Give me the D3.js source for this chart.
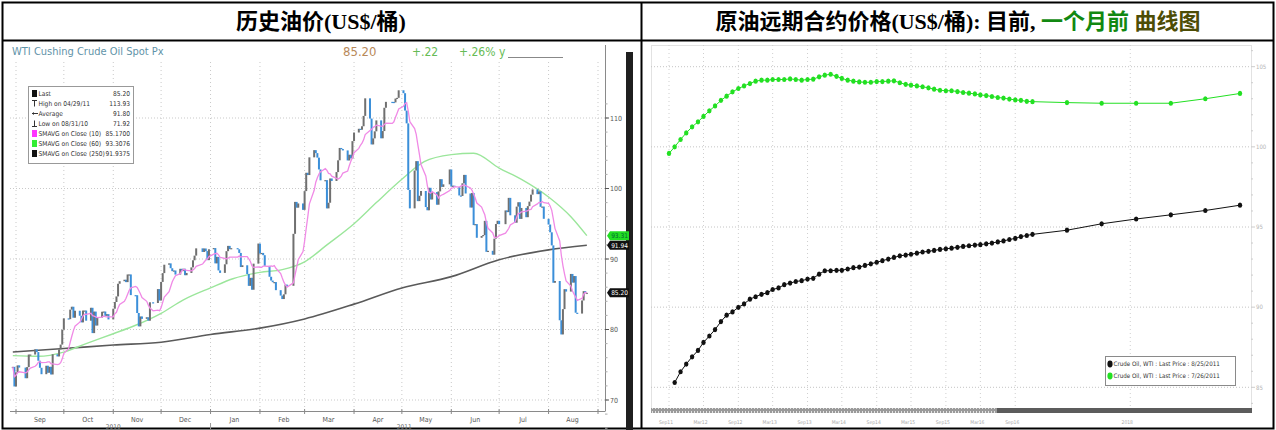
<!DOCTYPE html>
<html><head><meta charset="utf-8">
<script src="https://cdn.jsdelivr.net/npm/d3@7"></script>
<style>
body{margin:0;background:#fff;}
svg{display:block;}
.cond{font-family:'DejaVu Sans Condensed','DejaVu Sans',sans-serif;font-stretch:condensed;}
</style></head><body>
<svg id="c" width="1276" height="430"></svg>
<script>
// ---------------- DATA (left: WTI Cushing spot, daily closes) ----------------
const closesAug2010 = [74.70, 71.92];
const closesSep2010 = [73.91,74.91,74.60,73.09,74.67,76.45,76.45,77.19,76.80,75.57,74.57,73.66,74.86,73.86,74.71,73.62,76.49,76.18,77.18,77.86,79.97];
const closesOct2010 = [81.58,81.47,82.82,83.23,81.67,82.66,81.95,81.01,82.69,82.69,81.25,83.08,79.49,82.54,80.56,81.69,82.52,82.55,81.94,82.18,81.43];
const closesNov2010 = [82.95,83.90,84.69,86.49,86.85,87.06,86.72,87.81,87.81,84.88,84.86,82.34,80.44,81.85,81.51,81.74,81.25,83.86,83.76,85.73,84.11];
const closesDec2010 = [86.75,88.00,89.19,89.38,88.69,88.28,88.37,87.79,88.61,88.28,88.62,87.70,88.02,88.81,89.82,90.48,91.51,91.00,91.49,91.12,89.84,91.38];
const closesJan2011 = [91.55,89.38,90.30,88.38,88.03,89.25,91.11,91.86,91.40,91.54,91.38,90.86,88.86,89.11,87.87,86.19,87.33,85.64,89.34,92.19];
const closesFeb2011 = [90.77,90.86,90.54,89.03,87.48,86.94,86.71,86.73,85.58,84.81,84.32,84.99,86.36,86.20,93.57,98.10,97.28,97.88,96.97];
const closesMar2011 = [99.63,102.23,101.91,104.42,105.44,105.02,104.38,102.70,101.16,101.19,97.18,97.98,101.42,101.07,102.33,104.00,105.75,105.60,105.40,103.98,104.79,104.27,106.72];
const closesApr2011 = [107.94,108.47,108.34,108.83,110.30,112.79,109.92,106.25,107.11,108.11,109.66,107.12,108.15,111.45,112.29,112.28,112.21,112.76,112.86,113.93];
const closesMay2011 = [113.52,111.05,109.24,99.80,97.18,102.55,103.88,98.21,98.97,99.65,97.37,96.91,100.10,98.44,99.49,97.70,99.59,101.32,100.23,100.59,102.70];
const closesJun2011 = [100.29,100.40,100.22,99.01,98.94,100.74,101.93,99.29,97.30,99.37,94.81,94.95,93.01,93.26,93.40,95.41,91.02,91.16,90.61,92.89,94.96,95.42];
const closesJul2011 = [94.94,96.89,96.65,98.67,96.20,95.15,97.43,98.05,95.69,97.24,95.93,97.50,98.14,99.13,99.87,99.20,99.59,97.40,97.44,95.70];
const closesAug2011 = [94.89,93.79,91.93,86.63,86.88,81.31,79.30,82.89,85.72,85.38,87.88,86.65,87.58,82.38,82.26,84.12,85.44,85.16,85.20];
const marketHolidays = ["2010-09-06","2010-11-25","2010-12-24","2011-01-17","2011-02-21","2011-04-22","2011-05-30","2011-07-04"];
const firstTradingDay = "2010-08-30", lastTradingDay = "2011-08-25";

// 60-day and 250-day simple moving averages
const sma60Dates  = ["2010-08-30","2010-09-15","2010-10-01","2010-10-15","2010-11-01","2010-11-15","2010-12-01","2010-12-15","2011-01-01","2011-01-15","2011-02-01","2011-02-15","2011-03-01","2011-03-15","2011-04-01","2011-04-15","2011-05-01","2011-05-15","2011-06-01","2011-06-15","2011-07-01","2011-07-15","2011-08-01","2011-08-15","2011-08-25"];
const sma60Values = [76.3,76.2,76.8,78.0,79.4,80.6,82.3,84.2,85.9,87.2,88.1,88.5,89.6,92.0,95.0,98.0,101.3,103.8,104.8,105.0,102.9,101.3,98.8,96.0,93.31];
const sma250Dates  = ["2010-08-30","2010-10-01","2010-11-01","2010-12-01","2011-01-01","2011-02-01","2011-03-01","2011-04-01","2011-05-01","2011-06-01","2011-07-01","2011-08-01","2011-08-25"];
const sma250Values = [76.8,77.3,77.8,78.2,79.3,80.2,81.5,83.6,85.9,87.5,89.9,91.3,91.94];

const leftYTicks = [70,80,90,100,110];
const monthLabels = ["Sep","Oct","Nov","Dec","Jan","Feb","Mar","Apr","May","Jun","Jul","Aug"];
const yearLabels = ["2010","2011"];
const legendLabels = ["Last","High on 04/29/11","Average","Low on 08/31/10","SMAVG on Close (10)","SMAVG on Close (60)","SMAVG on Close (250)"];
const legendValues = ["85.20","113.93","91.80","71.92","85.1700","93.3076","91.9375"];
const tagValues = [93.31, 91.94, 85.20];
const tagLabels = ["93.31","91.94","85.20"];

// ---------------- DATA (right: WTI futures curves) ----------------
const curveNowFirst = "2011-10-01";   // 8/25/2011 curve, monthly contracts Oct11..Dec16
const curveNowMonthly = [85.30,85.97,86.45,86.90,87.30,87.80,88.20,88.60,89.10,89.50,
  89.70,89.99,90.20,90.50,90.65,90.80,90.90,91.10,91.20,91.40,
  91.50,91.60,91.65,91.75,91.80,92.06,92.27,92.27,92.30,92.30,
  92.38,92.46,92.50,92.60,92.70,92.80,92.90,93.00,93.10,93.20,
  93.25,93.30,93.37,93.44,93.48,93.54,93.60,93.64,93.68,93.73,
  93.79,93.83,93.87,93.90,93.95,94.00,94.07,94.13,94.22,94.29,
  94.40,94.47,94.54];
const curveMonthAgoFirst = "2011-09-01"; // 7/26/2011 curve, monthly contracts Sep11..Dec16
const curveMonthAgoMonthly = [99.59,100.00,100.46,100.87,101.25,101.56,101.90,102.25,102.55,102.90,
  103.16,103.43,103.64,103.80,103.95,104.10,104.16,104.16,104.20,104.20,
  104.20,104.24,104.20,104.16,104.20,104.22,104.37,104.47,104.53,104.40,
  104.27,104.16,104.10,104.05,104.03,104.03,104.07,104.07,104.10,104.12,
  104.00,103.90,103.85,103.80,103.75,103.68,103.60,103.53,103.50,103.50,
  103.45,103.39,103.35,103.30,103.24,103.20,103.14,103.08,103.04,102.98,
  102.93,102.90,102.84,102.82];
const backContracts = ["2017-06-01","2017-12-01","2018-06-01","2018-12-01","2019-06-01","2019-12-01"];
const curveNowBack = [94.80,95.20,95.50,95.76,96.03,96.36];
const curveMonthAgoBack = [102.76,102.72,102.72,102.72,103.00,103.33];
const rightYTicks = [85,90,95,100,105];
const rightXTickDates = ["2011-09-01","2012-03-01","2012-09-01","2013-03-01","2013-09-01","2014-03-01","2014-09-01","2015-03-01","2015-09-01","2016-03-01","2016-09-01","2018-05-01"];
const rightXTickLabels = ["Sep11","Mar12","Sep12","Mar13","Sep13","Mar14","Sep14","Mar15","Sep15","Mar16","Sep16","2018"];
const rightLegend = ["Crude Oil, WTI : Last Price : 8/25/2011","Crude Oil, WTI : Last Price : 7/26/2011"];

// ---------------- BUILD ----------------
const P = d3.timeParse("%Y-%m-%d");
const svg = d3.select("#c");
const COND = "'DejaVu Sans Condensed','DejaVu Sans',sans-serif";

const hol = new Set(marketHolidays);
const fmt = d3.timeFormat("%Y-%m-%d");
const days = d3.timeDay.range(P(firstTradingDay), d3.timeDay.offset(P(lastTradingDay),1))
  .filter(d => d.getDay()!==0 && d.getDay()!==6 && !hol.has(fmt(d)));
const closes = [].concat(closesAug2010,closesSep2010,closesOct2010,closesNov2010,closesDec2010,closesJan2011,closesFeb2011,closesMar2011,closesApr2011,closesMay2011,closesJun2011,closesJul2011,closesAug2011);
const n = Math.min(days.length, closes.length);
const bars = d3.range(n).map(i => ({d: days[i], c: closes[i], o: i>0 ? closes[i-1] : closes[i]}));
const sma10 = bars.map((b,i) => ({d:b.d, v:d3.mean(closes.slice(Math.max(0,i-9), i+1))}));

// ---- frames & titles ----
svg.append("rect").attr("x",2.5).attr("y",2.5).attr("width",1271).attr("height",426).attr("fill","none").attr("stroke","#000").attr("stroke-width",2);
svg.append("line").attr("x1",2).attr("x2",1274).attr("y1",40.5).attr("y2",40.5).attr("stroke","#000").attr("stroke-width",2);
svg.append("line").attr("x1",641.5).attr("x2",641.5).attr("y1",2).attr("y2",429).attr("stroke","#000").attr("stroke-width",2);

const titleFont = "'Liberation Serif','Noto Sans CJK SC',serif";
svg.append("text").attr("x",321).attr("y",29).attr("text-anchor","middle")
  .attr("font-family",titleFont).attr("font-size",22).attr("font-weight","bold").text("历史油价(US$/桶)");
const t2 = svg.append("text").attr("x",958).attr("y",29).attr("text-anchor","middle")
  .attr("font-family",titleFont).attr("font-size",22).attr("font-weight","bold");
t2.append("tspan").text("原油远期合约价格(US$/桶): 目前, ");
t2.append("tspan").attr("fill","#118811").text("一个月前");
t2.append("tspan").attr("fill","#4d4d05").text("  曲线图");

// ---- LEFT CHART ----
const xL = d3.scaleTime().domain([P("2010-09-01"), P("2011-09-01")]).range([16, 598]);
const yL = d3.scaleLinear().domain([70,110]).range([400, 118]);
const L = svg.append("g");
const plotL = {x0:10, x1:605, y0:62, y1:411};

// header line
L.append("text").attr("x",12).attr("y",55).attr("font-family",COND).attr("font-stretch","condensed").attr("font-size",11).attr("fill","#5f93a8").text("WTI Cushing Crude Oil Spot Px");
L.append("text").attr("x",343).attr("y",56).attr("font-family",COND).attr("font-stretch","condensed").attr("font-size",13).attr("fill","#b8895a").text(legendValues[0]);
L.append("text").attr("x",412).attr("y",56).attr("font-family",COND).attr("font-stretch","condensed").attr("font-size",12).attr("fill","#66bb55").text("+.22");
L.append("text").attr("x",459).attr("y",56).attr("font-family",COND).attr("font-stretch","condensed").attr("font-size",12).attr("fill","#66bb55").text("+.26% y");
L.append("line").attr("x1",508).attr("x2",563).attr("y1",57.5).attr("y2",57.5).attr("stroke","#888").attr("stroke-width",1);

// grid
const months = d3.timeMonth.range(P("2010-09-01"), P("2011-09-02"));
L.selectAll(".vg").data(months).join("line").attr("x1",d=>xL(d)).attr("x2",d=>xL(d))
  .attr("y1",plotL.y0).attr("y2",plotL.y1).attr("stroke","#c9c9c9").attr("stroke-dasharray","1,3");
L.selectAll(".hg").data(leftYTicks).join("line").attr("x1",plotL.x0).attr("x2",plotL.x1)
  .attr("y1",d=>yL(d)).attr("y2",d=>yL(d)).attr("stroke","#c9c9c9").attr("stroke-dasharray","1,2");

// axes
L.append("line").attr("x1",plotL.x0).attr("x2",plotL.x1).attr("y1",411.5).attr("y2",411.5).attr("stroke","#8a8a8a");
L.selectAll(".mt").data(months).join("line").attr("x1",d=>xL(d)).attr("x2",d=>xL(d)).attr("y1",409).attr("y2",414).attr("stroke","#8a8a8a");
L.selectAll(".ml").data(monthLabels).join("text").attr("x",(d,i)=>xL(d3.timeDay.offset(months[i],15)))
  .attr("y",422).attr("text-anchor","middle").attr("font-family",COND).attr("font-size",7).attr("fill","#555").text(d=>d);
const yearBound = P("2011-01-01");
L.append("text").attr("x",(xL(months[0])+xL(yearBound))/2).attr("y",429).attr("text-anchor","middle").attr("font-family",COND).attr("font-size",6.5).attr("fill","#666").text(yearLabels[0]);
L.append("text").attr("x",(xL(yearBound)+xL(months[months.length-1]))/2).attr("y",429).attr("text-anchor","middle").attr("font-family",COND).attr("font-size",6.5).attr("fill","#666").text(yearLabels[1]);
L.append("line").attr("x1",xL(yearBound)).attr("x2",xL(yearBound)).attr("y1",423).attr("y2",429).attr("stroke","#999");

L.append("line").attr("x1",605.5).attr("x2",605.5).attr("y1",45).attr("y2",411.5).attr("stroke","#8a8a8a");
L.selectAll(".mnt").data(d3.range(66,114,2)).join("line").attr("x1",605).attr("x2",607.5)
  .attr("y1",d=>yL(d)).attr("y2",d=>yL(d)).attr("stroke","#aaa");
L.selectAll(".yt").data(leftYTicks).join("line").attr("x1",605).attr("x2",609)
  .attr("y1",d=>yL(d)).attr("y2",d=>yL(d)).attr("stroke","#555");
L.selectAll(".yl").data(leftYTicks).join("text").attr("x",610).attr("y",d=>yL(d)+2.5)
  .attr("font-family",COND).attr("font-size",7).attr("fill","#555").text(d=>d);

// moving averages
const lineL = d3.line().x(d=>xL(d.d)).y(d=>yL(d.v)).curve(d3.curveMonotoneX);
L.append("path").datum(sma250Dates.map((d,i)=>({d:P(d),v:sma250Values[i]}))).attr("d",lineL)
  .attr("fill","none").attr("stroke","#5a5a5a").attr("stroke-width",1.6);
L.append("path").datum(sma60Dates.map((d,i)=>({d:P(d),v:sma60Values[i]}))).attr("d",lineL)
  .attr("fill","none").attr("stroke","#9be69b").attr("stroke-width",1.4);

// price bars
L.selectAll(".bar").data(bars).join("rect")
  .attr("x",d=>xL(d.d)-1).attr("width",2)
  .attr("y",d=>yL(Math.max(d.o,d.c)))
  .attr("height",d=>Math.max(1.2, Math.abs(yL(d.o)-yL(d.c))))
  .attr("fill",d=>d.c<d.o ? "#3b8fd9" : "#707070");
L.append("path").datum(sma10).attr("d",d3.line().x(d=>xL(d.d)).y(d=>yL(d.v)))
  .attr("fill","none").attr("stroke","#f08ae6").attr("stroke-width",1.3);

// legend
const lg = L.append("g");
lg.append("rect").attr("x",28.5).attr("y",86.5).attr("width",105).attr("height",77).attr("fill","#fff").attr("stroke","#999");
const legendIcons = ["sq#111","hi","avg","lo","sq#ff33ff","sq#33ee33","sq#111"];
legendLabels.forEach((lab,i)=>{
  const cy = 93.5 + i*10;
  const ic = legendIcons[i];
  if (ic.startsWith("sq")) lg.append("rect").attr("x",32).attr("y",cy-3.5).attr("width",5).attr("height",7).attr("fill",ic.slice(2));
  else if (ic==="hi") { lg.append("line").attr("x1",32).attr("x2",37).attr("y1",cy-3).attr("y2",cy-3).attr("stroke","#333"); lg.append("line").attr("x1",34.5).attr("x2",34.5).attr("y1",cy-3).attr("y2",cy+3).attr("stroke","#333"); }
  else if (ic==="lo") { lg.append("line").attr("x1",32).attr("x2",37).attr("y1",cy+3).attr("y2",cy+3).attr("stroke","#333"); lg.append("line").attr("x1",34.5).attr("x2",34.5).attr("y1",cy-3).attr("y2",cy+3).attr("stroke","#333"); }
  else { lg.append("line").attr("x1",32).attr("x2",38).attr("y1",cy).attr("y2",cy).attr("stroke","#333"); lg.append("path").attr("d",`M32,${cy}l2,-1.5v3z`).attr("fill","#333"); }
  lg.append("text").attr("x",38.5).attr("y",cy+2.5).attr("font-family",COND).attr("font-size",6.6).attr("fill","#333").text(lab);
  lg.append("text").attr("x",130).attr("y",cy+2.5).attr("text-anchor","end").attr("font-family",COND).attr("font-size",6.6).attr("fill","#333").text(legendValues[i]);
});

// right black bar and value tags
L.append("rect").attr("x",626).attr("y",52).attr("width",7).attr("height",378).attr("fill","#1f1f1f");
const tagFill = ["#22dd22","#111","#111"], tagText = ["#063","#fff","#fff"];
tagValues.forEach((v,i)=>{
  const cy = yL(v);
  L.append("path").attr("d",`M607,${cy}l3,-4.5h19v9h-19z`).attr("fill",tagFill[i]);
  L.append("text").attr("x",619.5).attr("y",cy+2.3).attr("text-anchor","middle").attr("font-family",COND).attr("font-size",6.5).attr("fill",tagText[i]).text(tagLabels[i]);
});

// ---- RIGHT CHART ----
const xR = d3.scaleTime().domain([P("2011-09-01"), P("2019-12-01")]).range([669, 1240]);
const yR = d3.scaleLinear().domain([85,105]).range([387.3, 66.7]);
const R = svg.append("g");
const plotR = {x0:651, x1:1251, y0:45, y1:408};
R.append("rect").attr("x",plotR.x0+0.5).attr("y",plotR.y0+0.5).attr("width",plotR.x1-plotR.x0).attr("height",plotR.y1-plotR.y0).attr("fill","none").attr("stroke","#e2e2e2");
R.selectAll(".hg").data(rightYTicks).join("line").attr("x1",plotR.x0).attr("x2",plotR.x1)
  .attr("y1",d=>yR(d)).attr("y2",d=>yR(d)).attr("stroke","#c4c4c4").attr("stroke-dasharray","1,2");
R.selectAll(".vg").data(rightXTickDates).join("line").attr("x1",d=>xR(P(d))).attr("x2",d=>xR(P(d)))
  .attr("y1",plotR.y0).attr("y2",plotR.y1).attr("stroke","#cfcfcf").attr("stroke-dasharray","1,3");
R.selectAll(".yt").data(d3.range(84,107,1)).join("line").attr("x1",1251).attr("x2",d=>d%5===0?1255:1253)
  .attr("y1",d=>yR(d)).attr("y2",d=>yR(d)).attr("stroke","#ccc");
R.selectAll(".yl").data(rightYTicks).join("text").attr("x",1256).attr("y",d=>yR(d)+2.2)
  .attr("font-family",COND).attr("font-size",6).attr("fill","#b5b5b5").text(d=>d);

// scroll bar
const defs = svg.append("defs");
const pat = defs.append("pattern").attr("id","hatch").attr("width",3).attr("height",5).attr("patternUnits","userSpaceOnUse");
pat.append("rect").attr("width",3).attr("height",5).attr("fill","#9a9a9a");
pat.append("rect").attr("x",1).attr("y",1).attr("width",1).attr("height",3).attr("fill","#e4e4e4");
R.append("rect").attr("x",651).attr("y",408).attr("width",601).attr("height",5).attr("fill","#5c5c5c");
R.append("rect").attr("x",651).attr("y",408).attr("width",346).attr("height",5).attr("fill","url(#hatch)");
R.selectAll(".xl").data(rightXTickDates).join("text").attr("x",d=>xR(P(d))-3).attr("y",424)
  .attr("text-anchor","middle").attr("font-family",COND).attr("font-size",5).attr("fill","#aaa").text((d,i)=>rightXTickLabels[i]);

// curves
function curve(first, monthly, back) {
  const ms = d3.timeMonth.range(P(first), d3.timeMonth.offset(P(first), monthly.length));
  return ms.map((m,i)=>({d:m, v:monthly[i]})).concat(backContracts.map((b,i)=>({d:P(b), v:back[i]})));
}
const nowPts = curve(curveNowFirst, curveNowMonthly, curveNowBack);
const agoPts = curve(curveMonthAgoFirst, curveMonthAgoMonthly, curveMonthAgoBack);
const lineR = d3.line().x(d=>xR(d.d)).y(d=>yR(d.v));
[[agoPts,"#22e022"],[nowPts,"#111"]].forEach(([pts,col])=>{
  R.append("path").datum(pts).attr("d",lineR).attr("fill","none").attr("stroke",col).attr("stroke-width",1);
  R.selectAll(null).data(pts).join("ellipse").attr("cx",d=>xR(d.d)).attr("cy",d=>yR(d.v)).attr("rx",2.2).attr("ry",2.6).attr("fill",col);
});

// legend
R.append("rect").attr("x",1105.5).attr("y",356.5).attr("width",130).attr("height",29).attr("fill","#fff").attr("stroke","#8a8a8a");
rightLegend.forEach((t,i)=>{
  const cy = 364 + i*12;
  R.append("ellipse").attr("cx",1110).attr("cy",cy).attr("rx",2.6).attr("ry",3.4).attr("fill",i===0?"#111":"#22e022");
  R.append("text").attr("x",1113.5).attr("y",cy+2.2).attr("font-family",COND).attr("font-size",6.2).attr("fill","#333").text(t);
});
</script>
</body></html>
